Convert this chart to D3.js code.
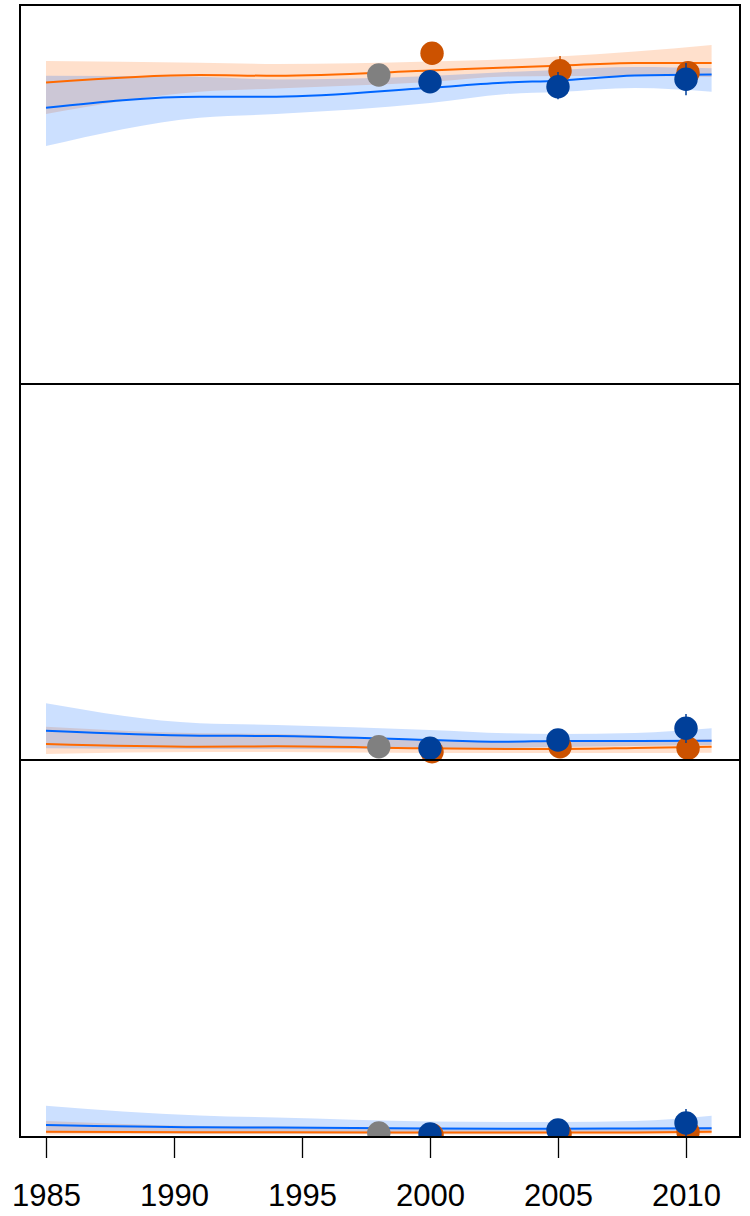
<!DOCTYPE html>
<html>
<head>
<meta charset="utf-8">
<script src="https://cdn.jsdelivr.net/npm/d3@7"></script>
<style>
  html, body { margin: 0; padding: 0; background: #fff; }
  svg { display: block; }
</style>
</head>
<body>
<svg id="chart" width="750" height="1216"></svg>
<script>
// ---------- DATA ----------
const fitYears = [1985, 1991, 1994, 2000, 2003, 2005, 2008, 2011];
const tickYears = [1985, 1990, 1995, 2000, 2005, 2010];
const pointYears = [2000, 2005, 2010];
const grayYear = 1998;

// Panel 1 (top)
const p1OrangeFit = [0.7955, 0.8153, 0.8132, 0.8272, 0.8351, 0.8398, 0.8470, 0.8470];
const p1OrangeHi  = [0.8522, 0.8478, 0.8443, 0.8509, 0.8567, 0.8641, 0.8773, 0.8945];
const p1OrangeLo  = [0.7124, 0.7712, 0.7797, 0.7968, 0.8113, 0.8127, 0.8127, 0.8100];
const p1BlueFit   = [0.7290, 0.7580, 0.7580, 0.7818, 0.7955, 0.8003, 0.8140, 0.8166];
const p1BlueHi    = [0.8135, 0.8108, 0.8034, 0.8127, 0.8232, 0.8285, 0.8364, 0.8330];
const p1BlueLo    = [0.6280, 0.7026, 0.7124, 0.7414, 0.7652, 0.7704, 0.7810, 0.7712];
const p1OrangePts = [0.8726, 0.8267, 0.8214];
const p1OrangeErrLo = [0.8650, 0.7970, 0.8100];
const p1OrangeErrHi = [0.8800, 0.8654, 0.8330];
const p1BluePts   = [0.7976, 0.7844, 0.8040];
const p1BlueErrLo = [0.7900, 0.7512, 0.7617];
const p1BlueErrHi = [0.8050, 0.8230, 0.8470];

// Panel 2 (middle)
const p2OrangeFit = [0.0426, 0.0354, 0.0364, 0.0311, 0.0293, 0.0293, 0.0319, 0.0354];
const p2OrangeHi  = [0.0886, 0.0710, 0.0691, 0.0532, 0.0479, 0.0479, 0.0505, 0.0559];
const p2OrangeLo  = [0.0160, 0.0213, 0.0213, 0.0186, 0.0186, 0.0186, 0.0186, 0.0194];
const p2BlueFit   = [0.0779, 0.0646, 0.0638, 0.0532, 0.0487, 0.0505, 0.0505, 0.0513];
const p2BlueHi    = [0.1508, 0.0976, 0.0931, 0.0798, 0.0710, 0.0691, 0.0718, 0.0843];
const p2BlueLo    = [0.0311, 0.0293, 0.0293, 0.0293, 0.0319, 0.0346, 0.0372, 0.0399];
const p2OrangePts = [0.0221, 0.0354, 0.0311];
const p2OrangeErrLo = [0.0200, 0.0330, 0.0290];
const p2OrangeErrHi = [0.0240, 0.0380, 0.0330];
const p2BluePts   = [0.0311, 0.0532, 0.0843];
const p2BlueErrLo = [0.0290, 0.0510, 0.0452];
const p2BlueErrHi = [0.0330, 0.0560, 0.1223];

// Panel 3 (bottom)
const p3OrangeFit = [0.0141, 0.0125, 0.0125, 0.0120, 0.0117, 0.0117, 0.0120, 0.0141];
const p3OrangeHi  = [0.0424, 0.0292, 0.0279, 0.0239, 0.0225, 0.0225, 0.0239, 0.0265];
const p3OrangeLo  = [0.0066, 0.0071, 0.0071, 0.0066, 0.0066, 0.0066, 0.0066, 0.0066];
const p3BlueFit   = [0.0318, 0.0257, 0.0252, 0.0225, 0.0220, 0.0220, 0.0225, 0.0231];
const p3BlueHi    = [0.0830, 0.0570, 0.0517, 0.0411, 0.0398, 0.0398, 0.0424, 0.0565];
const p3BlueLo    = [0.0106, 0.0093, 0.0093, 0.0093, 0.0093, 0.0106, 0.0119, 0.0133];
const p3OrangePts = [0.0053, 0.0080, 0.0133];
const p3OrangeErrLo = [0.0040, 0.0060, 0.0110];
const p3OrangeErrHi = [0.0070, 0.0100, 0.0160];
const p3BluePts   = [0.0080, 0.0186, 0.0371];
const p3BlueErrLo = [0.0060, 0.0160, 0.0000];
const p3BlueErrHi = [0.0100, 0.0210, 0.0743];

const grayPts = [0.8153, 0.0354, 0.0106];

// ---------- LAYOUT ----------
const svg = d3.select("#chart");
const left = 20, right = 740;
const panelBounds = [[5, 384], [384, 760], [760, 1137]];
const colors = {
  orangeLine: "#ff6a00", blueLine: "#0066ff",
  orangeBand: "#ff6600", blueBand: "#0066ff",
  orangePt: "#cc5200", bluePt: "#003f99", grayPt: "#808080"
};
const x = d3.scaleLinear().domain([1985, 2010]).range([46, 686]);
const dodge = 0.08;

const panels = [
  {of: p1OrangeFit, oh: p1OrangeHi, ol: p1OrangeLo, bf: p1BlueFit, bh: p1BlueHi, bl: p1BlueLo,
   op: p1OrangePts, oel: p1OrangeErrLo, oeh: p1OrangeErrHi, bp: p1BluePts, bel: p1BlueErrLo, beh: p1BlueErrHi},
  {of: p2OrangeFit, oh: p2OrangeHi, ol: p2OrangeLo, bf: p2BlueFit, bh: p2BlueHi, bl: p2BlueLo,
   op: p2OrangePts, oel: p2OrangeErrLo, oeh: p2OrangeErrHi, bp: p2BluePts, bel: p2BlueErrLo, beh: p2BlueErrHi},
  {of: p3OrangeFit, oh: p3OrangeHi, ol: p3OrangeLo, bf: p3BlueFit, bh: p3BlueHi, bl: p3BlueLo,
   op: p3OrangePts, oel: p3OrangeErrLo, oeh: p3OrangeErrHi, bp: p3BluePts, bel: p3BlueErrLo, beh: p3BlueErrHi}
];

const defs = svg.append("defs");
panels.forEach((p, i) => {
  const [top, bottom] = panelBounds[i];
  const y = d3.scaleLinear().domain([0, 1]).range([bottom, top]);
  const clipId = "clip" + i;
  defs.append("clipPath").attr("id", clipId).append("rect")
    .attr("x", left).attr("y", i === 0 ? top : top - 10)
    .attr("width", right - left)
    .attr("height", (i === 2 ? bottom : bottom + 6) - (i === 0 ? top : top - 10));
  const g = svg.append("g").attr("clip-path", `url(#${clipId})`);

  const area = (lo, hi) => d3.area()
    .x((d, k) => x(fitYears[k]))
    .y0((d, k) => y(lo[k]))
    .y1((d, k) => y(hi[k]))
    .curve(d3.curveMonotoneX)(fitYears);
  const line = (vals) => d3.line()
    .x((d, k) => x(fitYears[k]))
    .y((d, k) => y(vals[k]))
    .curve(d3.curveMonotoneX)(fitYears);

  g.append("path").attr("d", area(p.ol, p.oh)).attr("fill", colors.orangeBand).attr("fill-opacity", 0.2);
  g.append("path").attr("d", area(p.bl, p.bh)).attr("fill", colors.blueBand).attr("fill-opacity", 0.2);
  g.append("path").attr("d", line(p.of)).attr("fill", "none").attr("stroke", colors.orangeLine).attr("stroke-width", 2);
  g.append("path").attr("d", line(p.bf)).attr("fill", "none").attr("stroke", colors.blueLine).attr("stroke-width", 2);

  // gray point
  g.append("circle").attr("cx", x(grayYear)).attr("cy", y(grayPts[i])).attr("r", 11.7).attr("fill", colors.grayPt);

  // orange points + error bars
  pointYears.forEach((yr, k) => {
    g.append("line").attr("x1", x(yr + dodge)).attr("x2", x(yr + dodge))
      .attr("y1", y(p.oel[k])).attr("y2", y(p.oeh[k]))
      .attr("stroke", colors.orangePt).attr("stroke-width", 1.5);
    g.append("circle").attr("cx", x(yr + dodge)).attr("cy", y(p.op[k])).attr("r", 11.7).attr("fill", colors.orangePt);
  });
  // blue points + error bars
  pointYears.forEach((yr, k) => {
    g.append("line").attr("x1", x(yr)).attr("x2", x(yr))
      .attr("y1", y(p.bel[k])).attr("y2", y(p.beh[k]))
      .attr("stroke", colors.bluePt).attr("stroke-width", 1.5);
    g.append("circle").attr("cx", x(yr)).attr("cy", y(p.bp[k])).attr("r", 11.7).attr("fill", colors.bluePt);
  });
});

// panel frames
panelBounds.forEach(([top, bottom]) => {
  svg.append("rect").attr("x", left).attr("y", top)
    .attr("width", right - left).attr("height", bottom - top)
    .attr("fill", "none").attr("stroke", "#000").attr("stroke-width", 2);
});

// x axis
const axis = d3.axisBottom(x).tickValues(tickYears).tickFormat(d3.format("d"))
  .tickSizeInner(21).tickSizeOuter(0).tickPadding(26);
const ax = svg.append("g").attr("transform", "translate(0,1137)").call(axis);
ax.select(".domain").remove();
ax.selectAll(".tick line").attr("stroke", "#000").attr("stroke-width", 1.3);
ax.selectAll(".tick text")
  .attr("fill", "#000")
  .style("font-family", "'Liberation Sans', Arial, sans-serif")
  .style("font-size", "31px");
</script>
</body>
</html>
